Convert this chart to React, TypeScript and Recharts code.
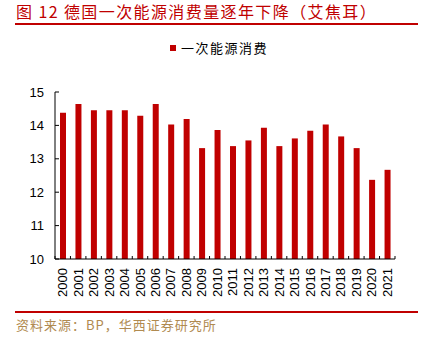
import React from 'react';
import { BarChart, Bar, XAxis, YAxis, Legend } from 'recharts';

const years = ['2000', '2001', '2002', '2003', '2004', '2005', '2006', '2007', '2008', '2009', '2010',
  '2011', '2012', '2013', '2014', '2015', '2016', '2017', '2018', '2019', '2020', '2021'];
const consumption = [14.38, 14.64, 14.45, 14.45, 14.45, 14.29, 14.64, 14.03, 14.19, 13.32, 13.86,
  13.38, 13.55, 13.93, 13.38, 13.61, 13.84, 14.03, 13.67, 13.32, 12.37, 12.67];
const yTicks = [10, 11, 12, 13, 14, 15];

const data = years.map((year, i) => ({ year, value: consumption[i] }));

const RED = '#c00000';
const FONT = '"Liberation Sans", Arial, sans-serif';
const CJK = '"Noto Sans CJK SC", sans-serif';

const CHART_W = 428;
const M_LEFT = 0;
const Y_W = 55;
const M_RIGHT = 33;
const STEP = (CHART_W - M_LEFT - Y_W - M_RIGHT) / years.length;

function XTick(props: any) {
  const { x, y, payload, index } = props;
  return (
    <g>
      <line x1={x - STEP / 2} x2={x - STEP / 2} y1={y} y2={y - 3} stroke="#000" />
      {index === years.length - 1 && (
        <line x1={x + STEP / 2} x2={x + STEP / 2} y1={y} y2={y - 3} stroke="#000" />
      )}
      <text
        transform={`translate(${x + 4.5},${y + 9}) rotate(-90)`}
        textAnchor="end"
        fontSize={13}
        fontFamily={FONT}
        fill="#000"
      >
        {payload.value}
      </text>
    </g>
  );
}

function YTick(props: any) {
  const { x, y, payload } = props;
  return (
    <g>
      <line x1={x} x2={x + 4} y1={y} y2={y} stroke="#000" />
      <text x={x - 11} y={y + 4.5} textAnchor="end" fontSize={13} fontFamily={FONT} fill="#000">
        {payload.value}
      </text>
    </g>
  );
}

function LegendContent() {
  return (
    <div style={{ display: 'flex', alignItems: 'center', fontFamily: CJK, fontSize: 13, color: '#000' }}>
      <span style={{ width: 6, height: 6, background: RED, display: 'inline-block', marginRight: 5 }} />
      <span style={{ letterSpacing: 1.5 }}>一次能源消费</span>
    </div>
  );
}

export default function App() {
  return (
    <div style={{ position: 'absolute', left: 0, top: 0, width: 428, height: 339, background: '#fff' }}>
      <div
        style={{
          position: 'absolute', left: 16, top: 0, fontFamily: CJK, fontSize: 16, color: RED,
          letterSpacing: 1.4, lineHeight: '22px', whiteSpace: 'nowrap',
        }}
      >
        图 12 德国一次能源消费量逐年下降（艾焦耳）
      </div>
      <div style={{ position: 'absolute', left: 15, top: 23, width: 403, height: 2, background: RED }} />

      <div style={{ position: 'absolute', left: 0, top: 36 }}>
        <BarChart
          width={CHART_W}
          height={268}
          data={data}
          margin={{ top: 37, right: M_RIGHT, left: M_LEFT, bottom: 0 }}
        >
          <Legend
            verticalAlign="top"
            content={<LegendContent />}
            wrapperStyle={{ top: 2, left: 170, width: 'auto' }}
          />
          <XAxis
            dataKey="year"
            interval={0}
            height={45}
            axisLine={{ stroke: '#000' }}
            tickLine={false}
            tickSize={0}
            tickMargin={0}
            tick={<XTick />}
          />
          <YAxis
            width={Y_W}
            domain={[10, 15]}
            ticks={yTicks}
            allowDataOverflow
            axisLine={{ stroke: '#000' }}
            tickLine={false}
            tickSize={0}
            tickMargin={0}
            tick={<YTick />}
          />
          <Bar dataKey="value" fill={RED} barSize={6} isAnimationActive={false} />
        </BarChart>
      </div>

      <div style={{ position: 'absolute', left: 15, top: 311, width: 403, height: 2, background: RED }} />
      <div
        style={{
          position: 'absolute', left: 16, top: 315, fontFamily: CJK, fontSize: 13, color: '#b08a50',
          letterSpacing: 1, lineHeight: '20px', whiteSpace: 'nowrap',
        }}
      >
        资料来源：BP，华西证券研究所
      </div>
    </div>
  );
}
